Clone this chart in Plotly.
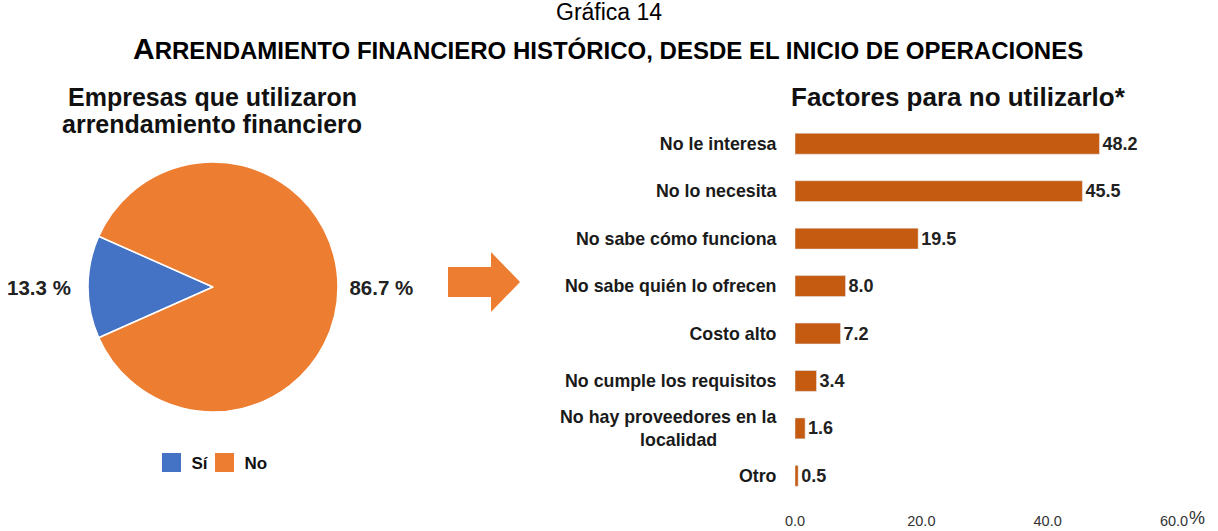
import plotly.graph_objects as go

W, H = 1218, 531

pie_labels = ["Sí", "No"]
pie_values = [13.3, 86.7]
pie_colors = ["#4472C4", "#ED7D31"]

bar_categories = [
    "No le interesa",
    "No lo necesita",
    "No sabe cómo funciona",
    "No sabe quién lo ofrecen",
    "Costo alto",
    "No cumple los requisitos",
    "No hay proveedores en la<br>localidad" + "\u00a0" * 12,
    "Otro",
]
bar_values = [48.2, 45.5, 19.5, 8.0, 7.2, 3.4, 1.6, 0.5]
x_ticks = [0, 20, 40, 60]

SANS = "Liberation Sans, Arial"

def px(x):
    return x / W

def py(y):
    return 1 - y / H

fig = go.Figure()

# Pie
cx, cy, r = 213, 287, 125
fig.add_trace(go.Pie(
    labels=pie_labels, values=pie_values, sort=False,
    direction="clockwise", rotation=-113.94,
    marker=dict(colors=pie_colors, line=dict(color="white", width=1.5)),
    texttemplate=["%{value:.1f} %\u00a0\u00a0", "\u00a0%{value:.1f} %"], textposition="outside",
    textfont=dict(family=SANS, size=20.5, color="#222222", weight="bold"),
    domain=dict(x=[px(cx - r), px(cx + r)], y=[py(cy + r), py(cy - r)]),
    showlegend=False, hoverinfo="label+value",
))

# Legend entries (same labels/colours as the pie)
for lab, col in zip(pie_labels, pie_colors):
    fig.add_trace(go.Scatter(
        x=[None], y=[None], mode="markers", name=lab,
        marker=dict(symbol="square", size=16, color=col, line=dict(color=col, width=3)),
        showlegend=True, hoverinfo="skip",
    ))
# blank spacer entry so the last label is not clipped by the compact legend
fig.add_trace(go.Scatter(
    x=[None], y=[None], mode="markers", name="\u00a0",
    marker=dict(symbol="square", size=1, color="rgba(0,0,0,0)"),
    showlegend=True, hoverinfo="skip",
))

# Bars
fig.add_trace(go.Bar(
    y=bar_categories, x=bar_values, orientation="h",
    marker=dict(color="#C55A11"),
    texttemplate="%{x:.1f}", textposition="outside",
    textfont=dict(family=SANS, size=18, color="#222222", weight="bold"),
    cliponaxis=False, showlegend=False, width=0.44,
))

fig.update_layout(
    width=W, height=H,
    margin=dict(l=0, r=0, t=0, b=0, pad=0, autoexpand=False),
    paper_bgcolor="white", plot_bgcolor="white",
    xaxis=dict(domain=[px(795), px(1174)], range=[0, 60], tickvals=x_ticks,
               tickformat=".1f", showgrid=False, zeroline=False, showline=False,
               ticks="", tickfont=dict(family=SANS, size=14.5, color="#333333"),
               fixedrange=True, automargin=False),
    yaxis=dict(domain=[py(510), py(120)], range=[7.72, -0.5], type="category",
               showgrid=False, zeroline=False, showline=False, ticks="outside",
               ticklen=14, tickcolor="rgba(0,0,0,0)",
               tickfont=dict(family=SANS, size=17.8, color="#1a1a1a", weight="bold"),
               fixedrange=True, automargin=False),
    legend=dict(orientation="h", x=px(231), xanchor="center", y=py(463), yanchor="middle",
                font=dict(family=SANS, size=17, color="#111111", weight="bold"),
                itemwidth=30, entrywidth=8, entrywidthmode="pixels",
                tracegroupgap=0, bgcolor="rgba(0,0,0,0)"),
    showlegend=True,
)

annotations = [
    dict(text="Gráfica 14", x=px(609), y=py(12), font=dict(family=SANS, size=23, color="#000000")),
    dict(text="<b><span style='font-size:30px'>A</span>RRENDAMIENTO FINANCIERO HISTÓRICO, DESDE EL INICIO DE OPERACIONES</b>",
         x=px(608), y=py(48), font=dict(family=SANS, size=24, color="#000000")),
    dict(text="<b>Empresas que utilizaron</b>", x=px(212), y=py(97),
         font=dict(family=SANS, size=25, color="#111111")),
    dict(text="<b>arrendamiento financiero</b>", x=px(212), y=py(124),
         font=dict(family=SANS, size=25, color="#111111")),
    dict(text="<b>Factores para no utilizarlo*</b>", x=px(958), y=py(97),
         font=dict(family=SANS, size=26, color="#111111")),
    dict(text="%", x=px(1197), y=py(518), font=dict(family=SANS, size=18, color="#333333")),
]
for a in annotations:
    a.update(xref="paper", yref="paper", showarrow=False, xanchor="center", yanchor="middle")
fig.update_layout(annotations=annotations)

# Arrow shape
pts = [(448, 267), (491, 267), (491, 252), (520, 282), (491, 312), (491, 297), (448, 297)]
path = "M " + " L ".join(f"{px(x):.5f},{py(y):.5f}" for x, y in pts) + " Z"
fig.add_shape(type="path", path=path, xref="paper", yref="paper",
              fillcolor="#ED7D31", line=dict(width=0))

fig.write_html("out.html", config={"displayModeBar": False},
               post_script="document.body.style.margin='0';document.body.style.overflow='hidden';")
